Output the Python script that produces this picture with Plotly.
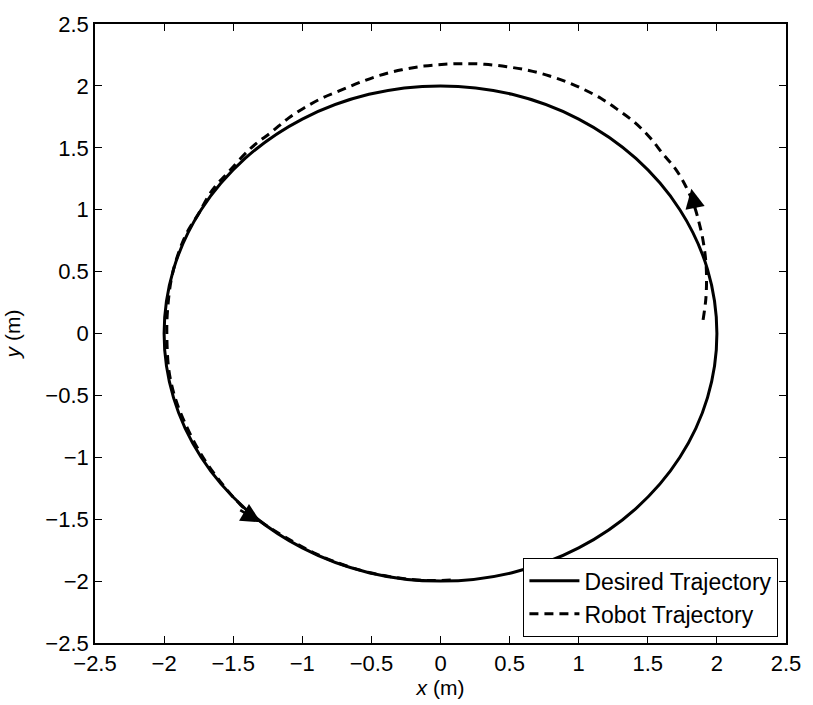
import plotly.graph_objects as go

# Desired trajectory (circle of radius 2), points read every 15 degrees
desired_x = [2.0, 1.932, 1.732, 1.414, 1.0, 0.518, 0.0, -0.518, -1.0, -1.414, -1.732, -1.932,
             -2.0, -1.932, -1.732, -1.414, -1.0, -0.518, 0.0, 0.518, 1.0, 1.414, 1.732, 1.932, 2.0]
desired_y = [0.0, 0.518, 1.0, 1.414, 1.732, 1.932, 2.0, 1.932, 1.732, 1.414, 1.0, 0.518,
             0.0, -0.518, -1.0, -1.414, -1.732, -1.932, -2.0, -1.932, -1.732, -1.414, -1.0, -0.518, 0.0]

# Robot trajectory
robot_x = [1.90, 1.92, 1.925, 1.92, 1.90, 1.87, 1.83, 1.77, 1.70, 1.61, 1.51, 1.40, 1.28, 1.16,
           1.04, 0.92, 0.79, 0.64, 0.48, 0.32, 0.17, 0.03, -0.12, -0.28, -0.44, -0.58, -0.72,
           -0.86, -0.99, -1.10, -1.22, -1.37, -1.53, -1.65, -1.75, -1.85, -1.94, -1.975, -1.98,
           -1.965, -1.92, -1.85, -1.73, -1.59, -1.45, -1.30, -1.10, -0.90, -0.70, -0.50, -0.30,
           -0.10, 0.10]
robot_y = [0.11, 0.28, 0.45, 0.58, 0.75, 0.90, 1.05, 1.20, 1.33, 1.45, 1.59, 1.71, 1.81, 1.90,
           1.97, 2.03, 2.08, 2.125, 2.155, 2.175, 2.18, 2.175, 2.16, 2.13, 2.085, 2.03, 1.965,
           1.90, 1.82, 1.74, 1.63, 1.50, 1.31, 1.16, 0.97, 0.78, 0.48, 0.19, -0.02,
           -0.30, -0.52, -0.72, -0.98, -1.20, -1.38, -1.52, -1.66, -1.78, -1.87, -1.935, -1.975,
           -1.995, -1.99]

# Direction arrows (tail -> tip)
arrow_tail_x = [1.845, -1.46]
arrow_tail_y = [1.00, -1.42]
arrow_tip_x = [1.815, -1.30]
arrow_tip_y = [1.17, -1.525]

tick_vals = [-2.5, -2, -1.5, -1, -0.5, 0, 0.5, 1, 1.5, 2, 2.5]
tick_text = ["\u22122.5", "\u22122", "\u22121.5", "\u22121", "\u22120.5", "0", "0.5", "1", "1.5", "2", "2.5"]

FONT = "Liberation Sans, Arial, sans-serif"

fig = go.Figure()
fig.add_trace(go.Scatter(x=desired_x, y=desired_y, mode="lines", name="Desired Trajectory",
                         line=dict(color="black", width=3, shape="spline", smoothing=1.0)))
fig.add_trace(go.Scatter(x=robot_x, y=robot_y, mode="lines", name="Robot Trajectory",
                         line=dict(color="black", width=3, dash="9px,6px", shape="spline", smoothing=1.0)))

for tx, ty, hx, hy in zip(arrow_tail_x, arrow_tail_y, arrow_tip_x, arrow_tip_y):
    fig.add_annotation(x=hx, y=hy, ax=tx, ay=ty, xref="x", yref="y", axref="x", ayref="y",
                       showarrow=True, arrowhead=2, arrowsize=1.5, arrowwidth=2.6,
                       arrowcolor="black", standoff=0, startstandoff=0, text="")

axis_common = dict(
    range=[-2.5, 2.5], tickmode="array", tickvals=tick_vals, ticktext=tick_text,
    ticks="inside", ticklen=7, tickwidth=1.3, tickcolor="black",
    showline=True, linecolor="black", linewidth=1.6, mirror="ticks",
    showgrid=False, zeroline=False,
    tickfont=dict(family=FONT, size=22, color="black"),
)

fig.update_layout(
    width=813, height=705,
    margin=dict(l=92, r=20, t=18, b=62),
    paper_bgcolor="white", plot_bgcolor="white",
    font=dict(family=FONT, color="black"),
    xaxis=dict(**axis_common, title=dict(text="<i>x</i> (m)", font=dict(family=FONT, size=21), standoff=0)),
    yaxis=dict(**axis_common, title=dict(text="<i>y</i> (m)", font=dict(family=FONT, size=21), standoff=19)),
    legend=dict(x=0.9886, y=0.0096, xanchor="right", yanchor="bottom",
                bgcolor="white", bordercolor="black", borderwidth=1.3,
                font=dict(family=FONT, size=23, color="black"),
                tracegroupgap=0, itemwidth=50),
    showlegend=True,
)

fig.write_html("out.html")
